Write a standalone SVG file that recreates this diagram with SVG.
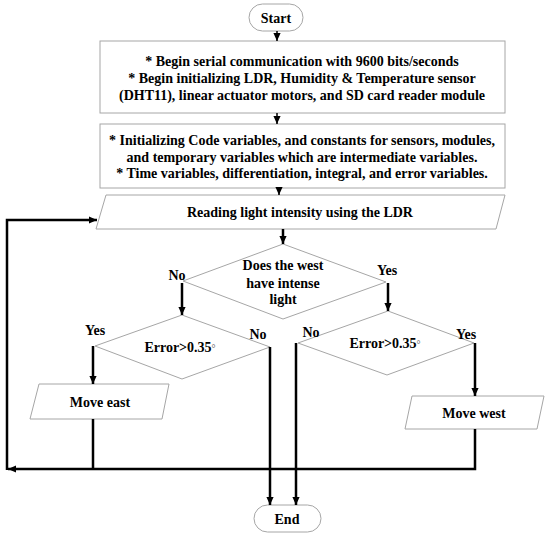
<svg xmlns="http://www.w3.org/2000/svg" width="550" height="536" viewBox="0 0 550 536">
<style>
.s{fill:#fff;stroke:#a6a6a6;stroke-width:1}
.t{font-family:"Liberation Serif","Times New Roman",serif;font-weight:bold;font-size:14px;fill:#000;text-anchor:middle}
.deg{font-weight:normal;font-size:10px;fill:#555}
.c{fill:none;stroke:#000;stroke-width:2.5}
.c2{fill:none;stroke:#000;stroke-width:1.5}
</style>
<defs>
<marker id="ah" viewBox="0 0 10 10" refX="10" refY="5" markerWidth="8" markerHeight="8" markerUnits="userSpaceOnUse" orient="auto">
<path d="M0,0.5 L10,5 L0,9.5 z" fill="#000"/>
</marker>
</defs>
<rect width="550" height="536" fill="#fff"/>
<g id="start"><rect class="s" x="249" y="4" width="54" height="27" rx="13.5"/><text class="t" x="276" y="22.5">Start</text></g>
<g id="init1"><rect class="s" x="100" y="41" width="405" height="72"/>
<text class="t" x="302" y="66">* Begin serial communication with 9600 bits/seconds</text>
<text class="t" x="302" y="83">* Begin initializing LDR, Humidity &amp; Temperature sensor</text>
<text class="t" x="302" y="100">(DHT11), linear actuator motors, and SD card reader module</text></g>
<g id="init2"><rect class="s" x="100" y="124" width="405" height="64"/>
<text class="t" x="302" y="145">* Initializing Code variables, and constants for sensors, modules,</text>
<text class="t" x="302" y="162">and temporary variables which are intermediate variables.</text>
<text class="t" x="302" y="178">* Time variables, differentiation, integral, and error variables.</text></g>
<g id="read"><polygon class="s" points="106,195 505,195 496,229 96,229"/><text class="t" x="300" y="217">Reading light intensity using the LDR</text></g>
<g id="d1"><polygon class="s" points="283,244 386,282 283,319 183,281"/>
<text class="t" x="283" y="270">Does the west</text><text class="t" x="283" y="288">have intense</text><text class="t" x="283" y="304">light</text></g>
<g id="d2"><polygon class="s" points="182,315 270,347 182,379 95,346"/><text class="t" x="180" y="352">Error&gt;0.35<tspan class="deg">°</tspan></text></g>
<g id="d3"><polygon class="s" points="388,311 474,343 387,375 298,343"/><text class="t" x="385" y="348">Error&gt;0.35<tspan class="deg">°</tspan></text></g>
<g id="east"><polygon class="s" points="39,384 169,384 162,419 30,419"/><text class="t" x="100" y="407">Move east</text></g>
<g id="west"><polygon class="s" points="412,396 544,396 537,429 405,429"/><text class="t" x="474" y="418">Move west</text></g>
<g id="end"><rect class="s" x="254" y="505" width="67" height="27" rx="13.5"/><text class="t" x="287" y="524">End</text></g>
<g id="labels">
<text class="t" x="177" y="280">No</text><text class="t" x="387" y="275">Yes</text>
<text class="t" x="95" y="335">Yes</text><text class="t" x="258" y="339">No</text>
<text class="t" x="311" y="337">No</text><text class="t" x="466" y="339">Yes</text>
</g>
<g id="connectors">
<path class="c2" d="M277,31 V41" marker-end="url(#ah)"/>
<path class="c2" d="M277,113 V124" marker-end="url(#ah)"/>
<path class="c2" d="M279,188 V195" marker-end="url(#ah)"/>
<path class="c" d="M283,229 V244" marker-end="url(#ah)"/>
<path class="c" d="M182,283 V315" marker-end="url(#ah)"/>
<path class="c" d="M388,283 V311" marker-end="url(#ah)"/>
<path class="c" d="M93,346 V384" marker-end="url(#ah)"/>
<path class="c" d="M270,347 V505" marker-end="url(#ah)"/>
<path class="c" d="M296,343 V505" marker-end="url(#ah)"/>
<path class="c" d="M475,343 V396" marker-end="url(#ah)"/>
<path class="c" d="M93,419 V469"/>
<path class="c" d="M475,429 V469 H8" marker-end="url(#ah)"/>
<path class="c" d="M7,470 V220 H97" marker-end="url(#ah)"/>
</g>
</svg>
